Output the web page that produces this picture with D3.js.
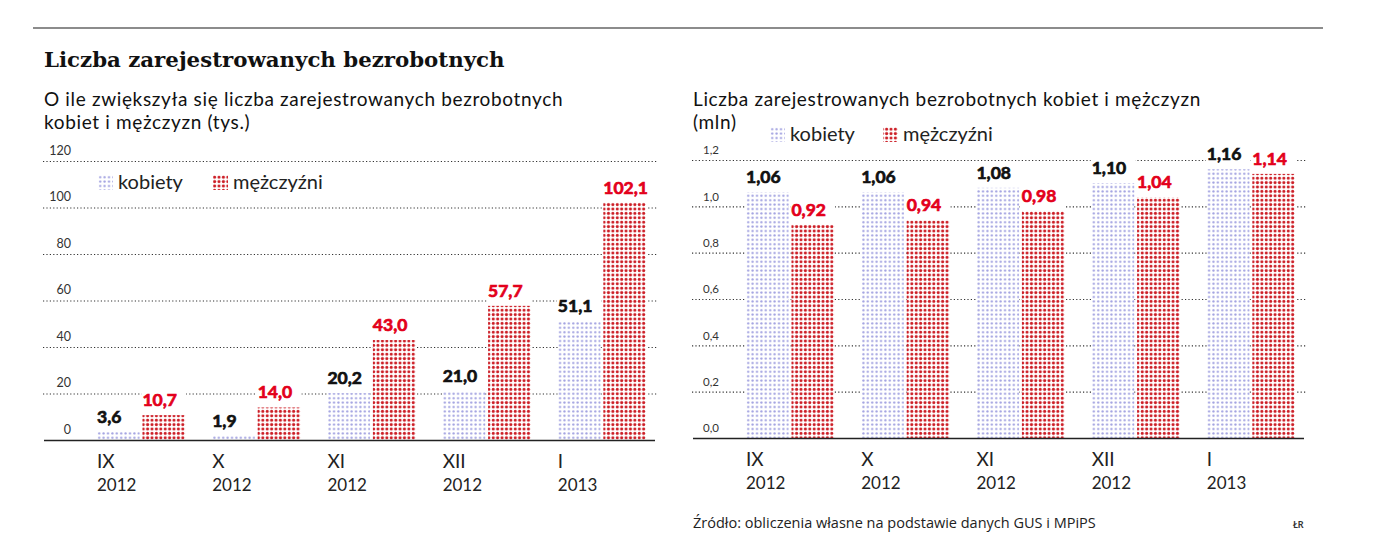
<!DOCTYPE html>
<html>
<head>
<meta charset="utf-8">
<script src="https://cdn.jsdelivr.net/npm/d3@7"></script>
<style>
  body { margin: 0; background: #fff; }
  text { font-family: Lato, "Open Sans", sans-serif; }
</style>
</head>
<body>
<div class="canvas"></div>
<script>
const width = 1400, height = 560

// data
const months = ['IX', 'X', 'XI', 'XII', 'I']
const years = ['2012', '2012', '2012', '2012', '2013']
const seriesNames = ['kobiety', 'mężczyźni']
const incKobiety = [3.6, 1.9, 20.2, 21.0, 51.1]
const incMezczyzni = [10.7, 14.0, 43.0, 57.7, 102.1]
const totKobiety = [1.06, 1.06, 1.08, 1.10, 1.16]
const totMezczyzni = [0.92, 0.94, 0.98, 1.04, 1.14]
const leftTicks = [0, 20, 40, 60, 80, 100, 120]
const rightTicks = [0, 0.2, 0.4, 0.6, 0.8, 1.0, 1.2]

const svg = d3.select('.canvas').append('svg').attr('width', width).attr('height', height)

// dotted fills
const defs = svg.append('defs')
const pk = defs.append('pattern').attr('id', 'dotsK').attr('patternUnits', 'userSpaceOnUse')
    .attr('width', 4.4).attr('height', 4.4)
pk.append('rect').attr('width', 4.4).attr('height', 4.4).attr('fill', '#fff')
pk.append('circle').attr('cx', 2.2).attr('cy', 2.2).attr('r', 1.15).attr('fill', '#a0a0e0')
const pm = defs.append('pattern').attr('id', 'dotsM').attr('patternUnits', 'userSpaceOnUse')
    .attr('width', 4.4).attr('height', 4.4)
pm.append('rect').attr('width', 4.4).attr('height', 4.4).attr('fill', '#fff')
pm.append('circle').attr('cx', 2.2).attr('cy', 2.2).attr('r', 1.55).attr('fill', '#cc1d25')

const fills = ['url(#dotsK)', 'url(#dotsM)']
const labelColors = ['#111', '#e3001b']

// header
svg.append('line').attr('x1', 33).attr('x2', 1323).attr('y1', 28).attr('y2', 28)
    .attr('stroke', '#666').attr('stroke-width', 1.5)
svg.append('text').attr('x', 44).attr('y', 67).text('Liczba zarejestrowanych bezrobotnych')
    .style('font-family', '"DejaVu Serif", serif').style('font-weight', 'bold').style('font-size', '21.3px')
    .attr('fill', '#111')

const sub = (x, y, t) => svg.append('text').attr('x', x).attr('y', y).text(t)
    .style('font-size', '19px').style('letter-spacing', '0.65px').attr('fill', '#111')
sub(44, 106, 'O ile zwiększyła się liczba zarejestrowanych bezrobotnych')
sub(44, 129, 'kobiet i mężczyzn (tys.)')
sub(693, 106, 'Liczba zarejestrowanych bezrobotnych kobiet i mężczyzn')
sub(693, 129, '(mln)')

svg.append('text').attr('x', 693).attr('y', 528)
    .text('Źródło: obliczenia własne na podstawie danych GUS i MPiPS')
    .style('font-family', '"Open Sans", sans-serif').style('font-size', '14.5px').attr('fill', '#222')
svg.append('text').attr('x', 1293).attr('y', 528).text('ŁR')
    .style('font-size', '9px').style('font-weight', 'bold').attr('fill', '#333')

function legend(x, y, sw) {
    const g = svg.append('g').attr('transform', `translate(${x}, ${y})`)
    const offs = [0, sw]
    seriesNames.forEach((name, i) => {
        g.append('rect').attr('x', offs[i]).attr('y', 0).attr('width', 15).attr('height', 15)
            .attr('fill', fills[i])
        g.append('text').attr('x', offs[i] + 20).attr('y', 14).text(name)
            .style('font-size', '20px').attr('fill', '#222')
    })
}

function panel(cfg) {
    const y = d3.scaleLinear().domain(cfg.domain).range([cfg.base, cfg.top])
    const x0 = d3.scaleBand().domain(months).range(cfg.xr).paddingInner(0.235).paddingOuter(0)
    const x1 = d3.scaleBand().domain(seriesNames).range([0, x0.bandwidth()]).paddingInner(0.06)
    const fmt = d => d3.format(`.${cfg.dec}f`)(d).replace('.', ',')

    // grid + tick labels
    const axis = d3.axisLeft(y).tickValues(cfg.ticks)
        .tickSize(-(cfg.gridR - cfg.gridL))
        .tickFormat(d => d3.format(`.${cfg.tickDec}f`)(d).replace('.', ','))
    const ag = svg.append('g').attr('transform', `translate(${cfg.gridL}, 0)`).call(axis)
    ag.select('.domain').remove()
    ag.selectAll('.tick line').attr('stroke', '#333').attr('stroke-width', 1.2)
        .attr('stroke-dasharray', '1.2,2.2')
        .filter(d => d === 0).remove()
    ag.selectAll('.tick text').attr('x', cfg.labR - cfg.gridL).attr('dy', '-0.55em')
        .attr('text-anchor', 'end')
        .style('font-family', 'Lato, sans-serif').style('font-size', cfg.tickSize)
        .attr('fill', '#333')

    const rows = months.map((m, i) => ({ m, vals: [cfg.k[i], cfg.mz[i]] }))
    const groups = svg.append('g').selectAll('g').data(rows).enter().append('g')
        .attr('transform', d => `translate(${x0(d.m)}, 0)`)
    const cells = groups.selectAll('g').data(d => d.vals.map((v, i) => ({ s: seriesNames[i], i, v })))
        .enter().append('g')

    // white knockout behind labels
    cells.append('rect')
        .attr('x', d => x1(d.s) - 1).attr('width', x1.bandwidth() + 2)
        .attr('y', d => y(d.v) - 24).attr('height', 24)
        .attr('fill', '#fff')
    cells.append('rect')
        .attr('x', d => x1(d.s)).attr('width', x1.bandwidth())
        .attr('y', d => y(d.v)).attr('height', d => cfg.base - y(d.v))
        .attr('fill', d => fills[d.i])
    cells.append('text')
        .attr('x', d => x1(d.s)).attr('y', d => y(d.v) - 9)
        .text(d => fmt(d.v))
        .style('font-family', 'Lato, sans-serif').style('font-weight', 'bold')
        .style('font-size', '17.5px')
        .attr('fill', d => labelColors[d.i])
        .attr('stroke', d => labelColors[d.i]).attr('stroke-width', 0.7)

    // baseline
    svg.append('line').attr('x1', cfg.gridL + 1).attr('x2', cfg.gridR - 2)
        .attr('y1', cfg.base + 0.5).attr('y2', cfg.base + 0.5)
        .attr('stroke', '#222').attr('stroke-width', 1.5)

    // month labels
    const xl = svg.append('g').selectAll('g').data(months).enter().append('g')
        .attr('transform', d => `translate(${x0(d)}, 0)`)
    xl.append('text').attr('y', cfg.base + 28).text(d => d)
        .style('font-size', '19px').attr('fill', '#222')
    xl.append('text').attr('y', cfg.base + 51).text((d, i) => years[i])
        .style('font-size', '17px').attr('fill', '#222')
}

panel({
    domain: [0, 120], base: 440, top: 161, xr: [97, 646],
    gridL: 43, gridR: 657, labR: 71, ticks: leftTicks, tickDec: 0, tickSize: '12.5px',
    k: incKobiety, mz: incMezczyzni, dec: 1
})
panel({
    domain: [0, 1.2], base: 438, top: 160, xr: [746, 1295],
    gridL: 692, gridR: 1306, labR: 719, ticks: rightTicks, tickDec: 1, tickSize: '11.5px',
    k: totKobiety, mz: totMezczyzni, dec: 2
})

legend(98, 175, 115)
legend(770, 127, 113)
</script>
</body>
</html>
